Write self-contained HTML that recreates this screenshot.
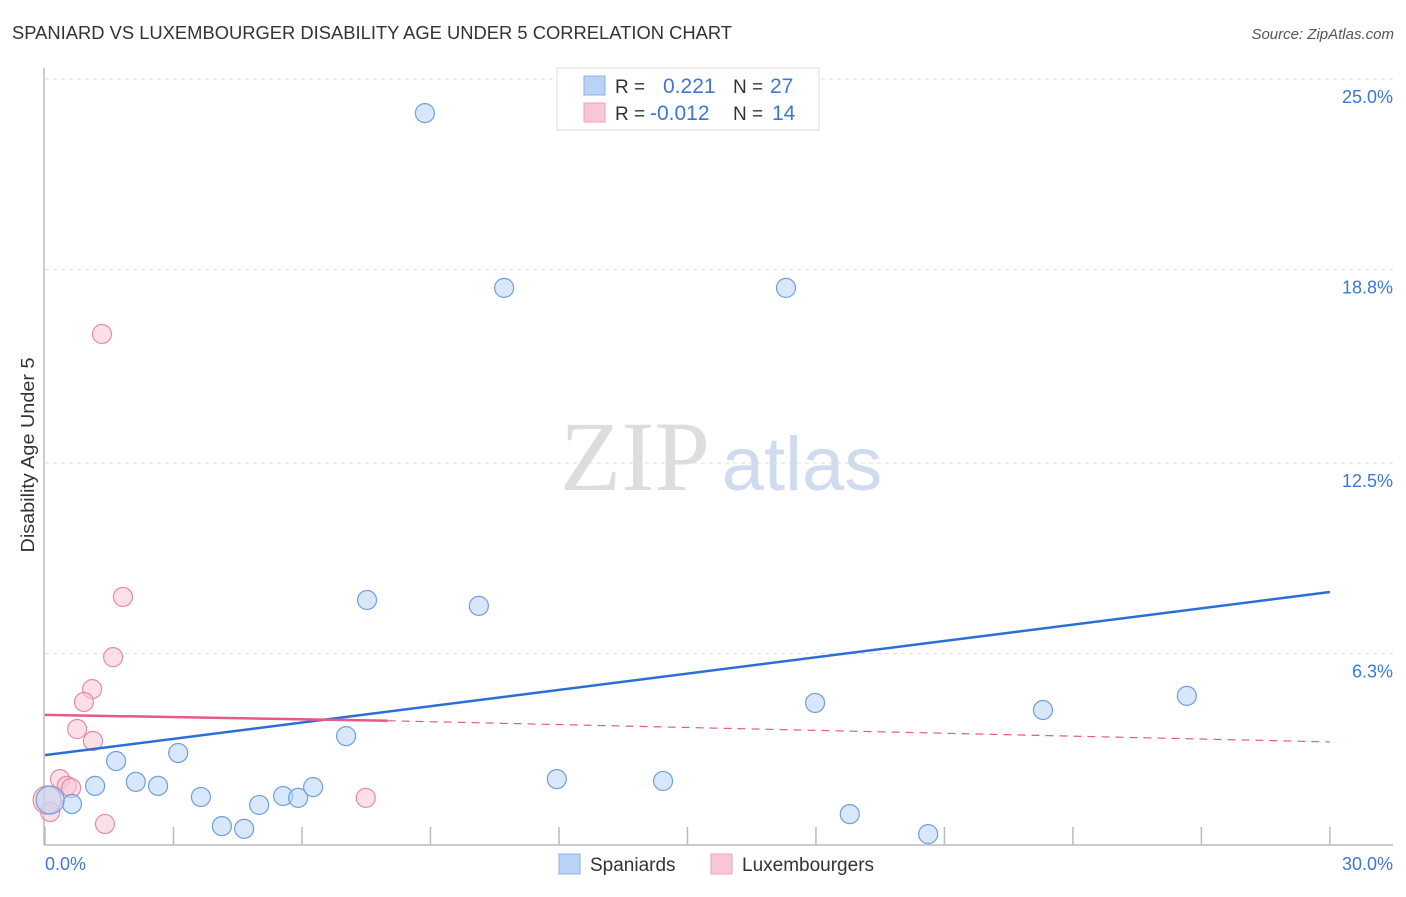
<!DOCTYPE html>
<html><head><meta charset="utf-8"><style>
body{margin:0;background:#fff;font-family:"Liberation Sans",sans-serif}
</style></head><body>
<svg width="1406" height="892" font-family="Liberation Sans, sans-serif">
<text x="12" y="39" font-size="18" fill="#333" textLength="720" lengthAdjust="spacingAndGlyphs">SPANIARD VS LUXEMBOURGER DISABILITY AGE UNDER 5 CORRELATION CHART</text>
<text x="1394" y="39" font-size="15" fill="#555" font-style="italic" text-anchor="end">Source: ZipAtlas.com</text>
<text x="34" y="455" font-size="18" fill="#333" text-anchor="middle" transform="rotate(-90 34 455)" textLength="195" lengthAdjust="spacingAndGlyphs">Disability Age Under 5</text>
<g><text x="635" y="490" font-size="100" font-family="Liberation Serif, serif" fill="#ddd" text-anchor="middle">ZIP</text><text x="802" y="490" font-size="76" fill="#cfdcf0" text-anchor="middle">atlas</text></g>
<g id="grid"></g><g id="axes"></g><g id="marks"></g>
<g>
<rect x="557" y="68" width="262" height="62" fill="#fff" stroke="#ddd"/>
<rect x="584" y="76" width="21" height="19" fill="#b8d3f5" stroke="#8ab0e6"/>
<rect x="584" y="103" width="21" height="19" fill="#f9c6d3" stroke="#eea1b6"/>
<text x="615" y="93" font-size="19" fill="#333">R = </text><text x="663" y="93" font-size="21" fill="#3b78d8">0.221</text>
<text x="733" y="93" font-size="19" fill="#333">N = </text><text x="770" y="93" font-size="21" fill="#3b78d8">27</text>
<text x="615" y="120" font-size="19" fill="#333">R = </text><text x="650" y="120" font-size="21" fill="#3b78d8">-0.012</text>
<text x="733" y="120" font-size="19" fill="#333">N = </text><text x="772" y="120" font-size="21" fill="#3b78d8">14</text>
</g>
<g>
<rect x="559" y="854" width="21" height="20" fill="#b8d3f5" stroke="#8ab0e6"/>
<text x="590" y="871" font-size="19" fill="#333">Spaniards</text>
<rect x="711" y="854" width="21" height="20" fill="#f9c6d3" stroke="#eea1b6"/>
<text x="742" y="871" font-size="19" fill="#333">Luxembourgers</text>
</g>
</svg>
<script>
const yTicks=[25,18.8,12.5,6.3];
const yTickLabels=["25.0%","18.8%","12.5%","6.3%"];
const xTicks=[0,3,6,9,12,15,18,21,24,27,30];
const spanX=[8.87,10.72,17.30,7.52,10.13,17.98,23.30,26.66,7.03,3.11,1.66,2.12,2.64,1.17,11.95,14.43,3.64,5.56,5.91,6.26,5.00,4.13,4.65,18.79,20.62,0.63,0.12];
const spanY=[23.89,18.20,18.20,8.04,7.85,4.69,4.46,4.92,3.61,3.06,2.80,2.12,1.99,1.99,2.21,2.15,1.63,1.66,1.60,1.95,1.37,0.68,0.59,1.07,0.42,1.40,1.53];
const luxX=[1.33,1.82,1.59,1.10,0.91,0.75,1.12,0.35,0.51,0.61,7.49,1.40,0.12,0.05];
const luxY=[16.70,8.14,6.18,5.14,4.72,3.84,3.45,2.21,1.99,1.92,1.60,0.75,1.14,1.53];
const spanTrend=[[0,2.99],[30,8.3]];
const luxTrend=[[0,4.30],[8,4.11],[30,3.42]];
const sx=v=>45+v*42.83, sy=v=>847-v*30.72;
const NS="http://www.w3.org/2000/svg";
function mk(t,a,p){const e=document.createElementNS(NS,t);for(const k in a)e.setAttribute(k,a[k]);p.appendChild(e);return e;}
const grid=document.getElementById('grid'),axes=document.getElementById('axes'),marks=document.getElementById('marks');
yTicks.forEach((t,i)=>{const l=mk('line',{x1:45,x2:1393,y1:sy(t),y2:sy(t),stroke:'#ddd','stroke-dasharray':'4 4'},grid);


const tx=mk('text',{x:1393,y:sy(t)+24,'font-size':18,fill:'#3b78d8','text-anchor':'end'},axes);tx.textContent=yTickLabels[i];

});
const ax=mk('line',{x1:44,x2:1393,y1:845,y2:845,stroke:'#bbb','stroke-width':1.5},axes);


const ay=mk('line',{x1:44,x2:44,y1:68,y2:845,stroke:'#bbb','stroke-width':1.5},axes);


xTicks.forEach(t=>{const l=mk('line',{x1:sx(t),x2:sx(t),y1:827,y2:845,stroke:'#bbb','stroke-width':1.5},axes);

});
const xl0=mk('text',{x:45,y:870,'font-size':18,fill:'#3b78d8'},axes);xl0.textContent="0.0%";


const xl1=mk('text',{x:1393,y:870,'font-size':18,fill:'#3b78d8','text-anchor':'end'},axes);xl1.textContent="30.0%";


function pts(X,Y,fill,stroke,name){X.forEach((x,i)=>{const r=i===X.length-1?14:9.5;
const c=mk('circle',{cx:sx(x),cy:sy(Y[i]),r:r,fill:fill,'fill-opacity':0.55,stroke:stroke,'stroke-width':1.2},marks);

});}
pts(luxX,luxY,'#f9c6d3','#e88aa5','luxembourger-point');
pts(spanX,spanY,'#b8d3f5','#6f9fe0','spaniard-point');
const bt=mk('line',{x1:sx(spanTrend[0][0]),y1:sy(spanTrend[0][1]),x2:sx(spanTrend[1][0]),y2:sy(spanTrend[1][1]),stroke:'#2a6fd6','stroke-width':2.5},marks);


const pt=mk('line',{x1:sx(luxTrend[0][0]),y1:sy(luxTrend[0][1]),x2:sx(luxTrend[1][0]),y2:sy(luxTrend[1][1]),stroke:'#e8588a','stroke-width':2.5},marks);


const pd=mk('line',{x1:sx(luxTrend[1][0]),y1:sy(luxTrend[1][1]),x2:sx(luxTrend[2][0]),y2:sy(luxTrend[2][1]),stroke:'#e8588a','stroke-width':1.2,'stroke-dasharray':'8 6'},marks);


</script>
</body></html>
